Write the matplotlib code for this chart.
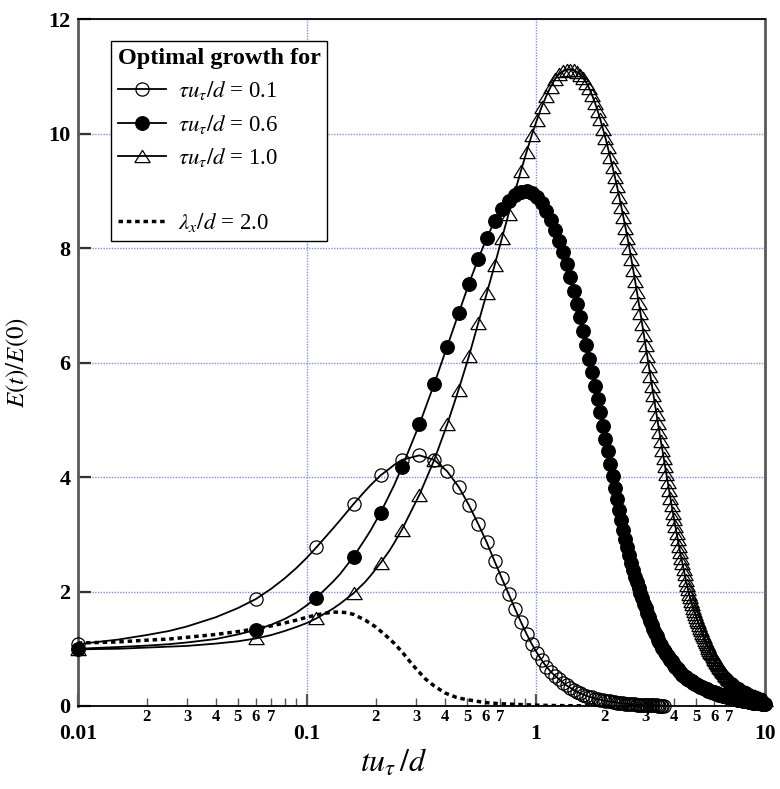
import numpy as np
import matplotlib
matplotlib.use('Agg')
import matplotlib.pyplot as plt
from matplotlib.lines import Line2D
from matplotlib.ticker import LogLocator, FuncFormatter, FixedLocator

plt.rcParams['font.family'] = ['Liberation Serif', 'DejaVu Serif']
plt.rcParams['mathtext.fontset'] = 'stix'

# ---------------- data ----------------
# markers are sampled at t = T0 + DT*k
T0, DT = 0.01, 0.05

# tau u_tau / d = 0.1  (open circles), t = 0.01 ... 3.61
E_tau01 = [
    1.08, 1.87, 2.77, 3.53, 4.03, 4.30, 4.38, 4.30, 4.10, 3.83,
    3.51, 3.18, 2.86, 2.53, 2.23, 1.96, 1.70, 1.47, 1.26, 1.08,
    0.93, 0.80, 0.69, 0.60, 0.53, 0.47, 0.41, 0.36, 0.32, 0.28,
    0.25, 0.22, 0.20, 0.18, 0.16, 0.15, 0.13, 0.12, 0.11, 0.10,
    0.090, 0.085, 0.080, 0.072, 0.066, 0.060, 0.055, 0.050, 0.046, 0.042,
    0.038, 0.035, 0.032, 0.030, 0.027, 0.025, 0.023, 0.021, 0.019, 0.018,
    0.016, 0.015, 0.014, 0.013, 0.012, 0.011, 0.010, 0.009, 0.008, 0.008,
    0.007, 0.007, 0.006,
]

# tau u_tau / d = 0.6  (filled circles), t = 0.01 ... 9.96
E_tau06 = [
    1.00, 1.33, 1.89, 2.61, 3.38, 4.17, 4.92, 5.63, 6.28, 6.86,
    7.38, 7.81, 8.18, 8.47, 8.68, 8.83, 8.93, 8.99, 9.00, 8.96,
    8.89, 8.79, 8.65, 8.49, 8.32, 8.13, 7.93, 7.72, 7.49, 7.26,
    7.03, 6.79, 6.55, 6.31, 6.07, 5.83, 5.59, 5.36, 5.13, 4.90,
    4.67, 4.45, 4.23, 4.02, 3.81, 3.62, 3.43, 3.25, 3.08, 2.92,
    2.77, 2.63, 2.50, 2.38, 2.26, 2.16, 2.06, 1.97, 1.88, 1.79,
    1.71, 1.63, 1.55, 1.48, 1.41, 1.34, 1.28, 1.22, 1.16, 1.11,
    1.06, 1.01, 0.97, 0.94, 0.90, 0.87, 0.84, 0.81, 0.78, 0.75,
    0.72, 0.69, 0.67, 0.64, 0.62, 0.60, 0.57, 0.55, 0.53, 0.51,
    0.50, 0.48, 0.47, 0.46, 0.45, 0.44, 0.43, 0.41, 0.40, 0.39,
    0.38, 0.37, 0.36, 0.35, 0.34, 0.34, 0.33, 0.32, 0.31, 0.30,
    0.29, 0.29, 0.28, 0.27, 0.27, 0.26, 0.25, 0.25, 0.24, 0.24,
    0.23, 0.23, 0.22, 0.22, 0.21, 0.21, 0.20, 0.20, 0.19, 0.19,
    0.19, 0.18, 0.18, 0.17, 0.17, 0.17, 0.16, 0.16, 0.16, 0.15,
    0.15, 0.14, 0.14, 0.14, 0.14, 0.13, 0.13, 0.13, 0.12, 0.12,
    0.12, 0.12, 0.11, 0.11, 0.11, 0.11, 0.10, 0.10, 0.10, 0.10,
    0.09, 0.09, 0.09, 0.09, 0.09, 0.08, 0.08, 0.08, 0.08, 0.08,
    0.07, 0.07, 0.07, 0.07, 0.07, 0.07, 0.07, 0.06, 0.06, 0.06,
    0.06, 0.06, 0.06, 0.06, 0.06, 0.05, 0.05, 0.05, 0.05, 0.05,
    0.05, 0.05, 0.05, 0.05, 0.04, 0.04, 0.04, 0.04, 0.04, 0.04,
]

# tau u_tau / d = 1.0  (open triangles), t = 0.01 ... 9.96
E_tau10 = [
    0.99, 1.18, 1.53, 1.97, 2.50, 3.08, 3.69, 4.30, 4.92, 5.53,
    6.11, 6.69, 7.21, 7.70, 8.17, 8.60, 8.99, 9.35, 9.68, 9.98,
    10.24, 10.47, 10.66, 10.82, 10.95, 11.04, 11.09, 11.12, 11.12, 11.11,
    11.08, 11.03, 10.97, 10.89, 10.79, 10.67, 10.54, 10.40, 10.25, 10.09,
    9.93, 9.76, 9.59, 9.42, 9.25, 9.08, 8.90, 8.72, 8.54, 8.36,
    8.18, 8.00, 7.81, 7.62, 7.43, 7.24, 7.05, 6.86, 6.67, 6.48,
    6.30, 6.12, 5.94, 5.77, 5.60, 5.43, 5.26, 5.10, 4.94, 4.78,
    4.63, 4.48, 4.33, 4.19, 4.05, 3.91, 3.77, 3.64, 3.51, 3.38,
    3.26, 3.14, 3.02, 2.91, 2.80, 2.69, 2.59, 2.49, 2.39, 2.30,
    2.21, 2.12, 2.04, 1.96, 1.90, 1.84, 1.78, 1.72, 1.66, 1.61,
    1.56, 1.51, 1.46, 1.41, 1.37, 1.32, 1.28, 1.24, 1.20, 1.16,
    1.12, 1.08, 1.05, 1.01, 0.98, 0.95, 0.92, 0.90, 0.87, 0.85,
    0.82, 0.80, 0.77, 0.75, 0.73, 0.71, 0.69, 0.67, 0.65, 0.63,
    0.61, 0.59, 0.57, 0.55, 0.54, 0.52, 0.51, 0.49, 0.48, 0.47,
    0.46, 0.45, 0.43, 0.42, 0.41, 0.40, 0.39, 0.38, 0.37, 0.36,
    0.35, 0.34, 0.33, 0.32, 0.32, 0.31, 0.30, 0.29, 0.29, 0.28,
    0.27, 0.27, 0.26, 0.25, 0.25, 0.24, 0.24, 0.23, 0.23, 0.22,
    0.22, 0.21, 0.21, 0.20, 0.20, 0.19, 0.19, 0.18, 0.18, 0.18,
    0.17, 0.17, 0.16, 0.16, 0.16, 0.15, 0.15, 0.14, 0.14, 0.14,
    0.13, 0.13, 0.13, 0.12, 0.12, 0.12, 0.12, 0.11, 0.11, 0.11,
]

# extra points on the solid curves between the early markers
t_extra = [0.015, 0.02, 0.025, 0.03, 0.04, 0.05, 0.07, 0.08, 0.09, 0.10,
           0.13, 0.14, 0.18, 0.19, 0.23, 0.24]
E_tau01_extra = [1.16, 1.24, 1.31, 1.39, 1.55, 1.71, 2.05, 2.23, 2.41, 2.59,
                 3.10, 3.25, 3.76, 3.86, 4.15, 4.21]
E_tau06_extra = [1.03, 1.055, 1.08, 1.11, 1.17, 1.25, 1.42, 1.52, 1.63, 1.76,
                 2.17, 2.31, 2.92, 3.07, 3.70, 3.85]
E_tau10_extra = [1.00, 1.02, 1.035, 1.05, 1.09, 1.13, 1.24, 1.31, 1.38, 1.45,
                 1.70, 1.79, 2.17, 2.28, 2.72, 2.84]

# lambda_x / d = 2.0 (dashed)
t_lam = [0.01, 0.015, 0.02, 0.025, 0.03, 0.04, 0.05, 0.06, 0.07, 0.08,
         0.09, 0.10, 0.11, 0.12, 0.13, 0.14, 0.15, 0.16, 0.18, 0.20,
         0.22, 0.24, 0.26, 0.28, 0.30, 0.33, 0.36, 0.40, 0.45, 0.50,
         0.60, 0.70, 0.80, 1.0, 1.2, 1.5, 2.0]
E_lam = [1.10, 1.12, 1.15, 1.17, 1.20, 1.25, 1.30, 1.35, 1.40, 1.45,
         1.50, 1.55, 1.59, 1.62, 1.64, 1.64, 1.63, 1.60, 1.50, 1.38,
         1.24, 1.10, 0.95, 0.79, 0.65, 0.47, 0.35, 0.23, 0.15, 0.11,
         0.06, 0.04, 0.03, 0.015, 0.008, 0.004, 0.001]

legend_labels = [r'$\tau u_\tau/d$ = 0.1', r'$\tau u_\tau/d$ = 0.6',
                 r'$\tau u_\tau/d$ = 1.0', r'$\lambda_x/d$ = 2.0']
legend_title = 'Optimal growth for'

major_ticks = [0.01, 0.1, 1, 10]
major_labels = ['0.01', '0.1', '1', '10']
minor_labelled = [2, 3, 4, 5, 6, 7]

# ---------------- figure ----------------
fig = plt.figure(figsize=(7.8, 7.89), dpi=100)
ax = fig.add_axes([0.0996, 0.1052, 0.8812, 0.8704])

tri = [(-1, -0.8), (1, -0.8), (0, 0.8), (-1, -0.8)]
LW = 1.3


def times(vals):
    return T0 + DT * np.arange(len(vals))


def line_data(vals, extra):
    t = np.concatenate([times(vals), t_extra])
    v = np.concatenate([vals, extra])
    o = np.argsort(t)
    return t[o], v[o]


styles = [
    dict(marker='o', ms=9.5, mfc='none', mec='k', mew=0.9),
    dict(marker='o', ms=9.8, mfc='k', mec='k', mew=0.9),
    dict(marker=tri, ms=11, mfc='none', mec='k', mew=0.9),
]
series = [(E_tau01, E_tau01_extra), (E_tau06, E_tau06_extra), (E_tau10, E_tau10_extra)]

for (vals, extra), st in zip(series, styles):
    tl, vl = line_data(vals, extra)
    ax.plot(tl, vl, color='k', lw=LW, clip_on=False, zorder=3)
    ax.plot(times(vals), vals, ls='none', clip_on=False, zorder=3, **st)

DASH = (0, (1.3, 1.1))
ax.plot(t_lam, E_lam, color='k', lw=2.5, linestyle=DASH, zorder=3)

ax.set_xscale('log')
ax.set_xlim(0.01, 10)
ax.set_ylim(0, 12)

ax.xaxis.set_major_locator(FixedLocator(major_ticks))
ax.xaxis.set_major_formatter(FuncFormatter(
    lambda x, p: major_labels[major_ticks.index(x)] if x in major_ticks else ''))
ax.xaxis.set_minor_locator(LogLocator(base=10, subs=range(2, 10), numticks=20))


def minor_fmt(x, p):
    m = x / 10 ** np.floor(np.log10(x) + 1e-9)
    mi = int(round(m))
    return str(mi) if mi in minor_labelled else ''


ax.xaxis.set_minor_formatter(FuncFormatter(minor_fmt))
ax.set_yticks(range(0, 13, 2))

ax.tick_params(axis='x', which='major', direction='in', length=9, width=1.6,
               color='#555555', pad=13, labelsize=15.5, top=False)
ax.tick_params(axis='x', which='minor', direction='in', length=5.5, width=1.0,
               color='#555555', pad=2.5, labelsize=12, top=False)
ax.tick_params(axis='y', which='major', direction='in', length=9, width=1.6,
               color='#333333', pad=5, labelsize=16, right=False)

ax.grid(True, which='major', color='#7f93d6', linestyle=(0, (1, 1)), lw=1.0)
ax.set_axisbelow(True)

for s in ['top', 'bottom']:
    ax.spines[s].set_color('k')
    ax.spines[s].set_linewidth(1.3)
for s in ['left', 'right']:
    ax.spines[s].set_color('#5a5a5a')
    ax.spines[s].set_linewidth(2.0)

ax.set_xlabel(r'$tu_\tau\,/d$', fontsize=23)
ax.xaxis.set_label_coords(0.46, -0.060)
ax.set_ylabel(r'$E(t)/E(0)$', fontsize=18)
ax.yaxis.set_label_coords(-0.068, 0.5)

handles = [
    Line2D([], [], color='k', lw=LW, **styles[0]),
    Line2D([], [], color='k', lw=LW, **styles[1]),
    Line2D([], [], color='k', lw=LW, **styles[2]),
    Line2D([], [], color='none'),
    Line2D([], [], color='k', lw=2.5, linestyle=DASH),
]
labels = legend_labels[:3] + [' '] + legend_labels[3:]
leg = ax.legend(handles, labels, loc='upper left', bbox_to_anchor=(0.048, 0.968),
                borderaxespad=0, fontsize=16.5, title=legend_title,
                title_fontproperties={'weight': 'bold', 'size': 17.5},
                alignment='left', numpoints=1, handlelength=2.1,
                handletextpad=0.55, labelspacing=0.45, borderpad=0.3,
                fancybox=False, framealpha=1, edgecolor='k')
leg.get_frame().set_linewidth(1.0)
leg.set_zorder(5)

fig.canvas.draw()
for lbl in ax.get_xticklabels(which='both') + ax.get_yticklabels():
    lbl.set_fontweight('bold')

fig.savefig('out.png', dpi=100, facecolor='white')
